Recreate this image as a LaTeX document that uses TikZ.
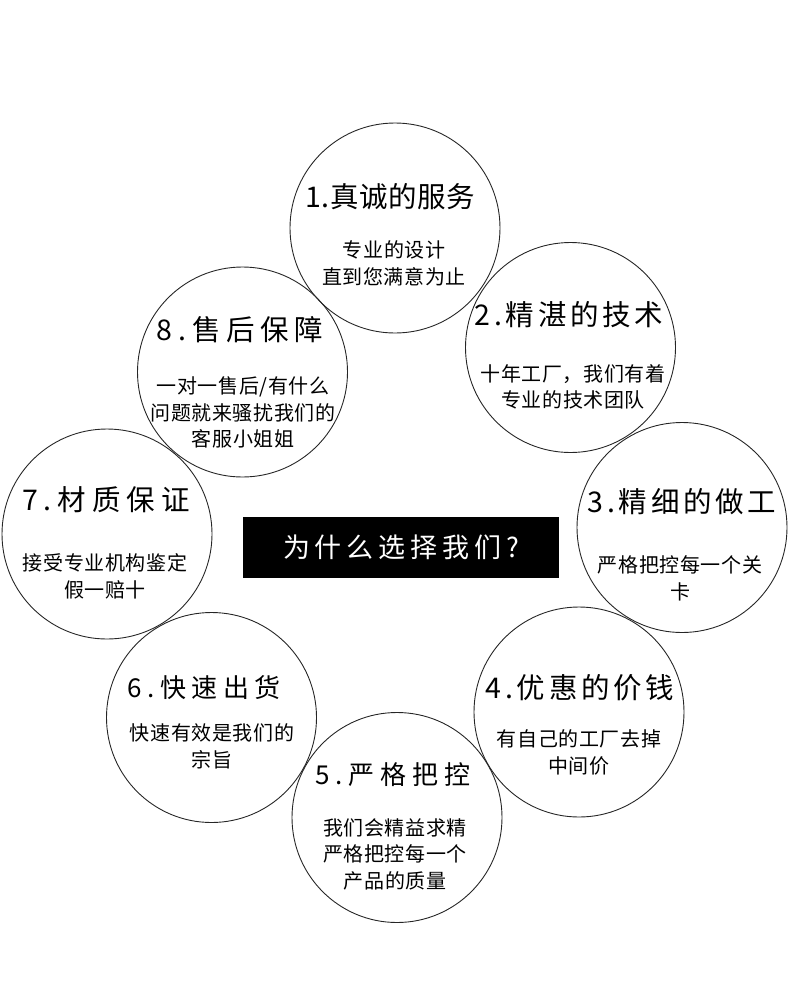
\documentclass[tikz,border=0pt]{standalone}
\usepackage{fontspec}
\setmainfont{Noto Sans CJK SC}
\begin{document}
\begin{tikzpicture}[x=1pt, y=-1pt]
        \tikzstyle{circ} = [draw=black!85, line width=0.9pt, circle, minimum size=210pt, inner sep=0pt]
        \tikzstyle{sub} = [align=center, inner sep=0pt, font=\fontsize{20}{26.5}\selectfont\addfontfeatures{LetterSpace=3}]
        \tikzstyle{qbox} = [fill=black, text=white, minimum width=316pt, minimum height=61pt, inner sep=0pt, font=\fontsize{27}{30}\selectfont\addfontfeatures{LetterSpace=18}]
        \tikzset{ttl/.style={inner sep=0pt, font=\fontsize{28.5}{32}\selectfont\addfontfeatures{LetterSpace=#1}}, ttl/.default=2}
        \tikzset{ttls/.style={inner sep=0pt, font=\fontsize{26}{30}\selectfont\addfontfeatures{LetterSpace=#1}}}
        \useasboundingbox (0, 0) rectangle (790, 988);
        % the eight circles
        \node[circ] (c1) at (395, 228) {};
        \node[circ] (c2) at (570.5, 347.5) {};
        \node[circ] (c3) at (682, 527.5) {};
        \node[circ] (c4) at (579, 712) {};
        \node[circ] (c5) at (397, 817.5) {};
        \node[circ] (c6) at (211.5, 717.5) {};
        \node[circ] (c7) at (107, 534) {};
        \node[circ] (c8) at (242.5, 372) {};
        % titles
        \node[ttl] (t1) at (390, 197) {1.真诚的服务};
        \node[ttl=13] (t2) at (569, 315) {2.精湛的技术};
        \node[ttl=13] (t3) at (682, 502) {3.精细的做工};
        \node[ttl=13] (t4) at (580, 688) {4.优惠的价钱};
        \node[ttls=23] (t5) at (393, 775) {5.严格把控};
        \node[ttls=21] (t6) at (204, 688) {6.快速出货};
        \node[ttl=21] (t7) at (106, 500) {7.材质保证};
        \node[ttl=20] (t8) at (240, 330) {8.售后保障};
        % texts under the titles
        \node[sub] (s1) at (394, 263.5) {专业的设计\\直到您满意为止};
        \node[sub] (s2) at (573, 387) {十年工厂，我们有着\\专业的技术团队};
        \node[sub] (s3) at (680, 578.5) {严格把控每一个关\\卡};
        \node[sub] (s4) at (579, 752.5) {有自己的工厂去掉\\中间价};
        \node[sub] (s5) at (395, 854) {我们会精益求精\\严格把控每一个\\产品的质量};
        \node[sub] (s6) at (212, 746.5) {快速有效是我们的\\宗旨};
        \node[sub] (s7) at (105, 576.5) {接受专业机构鉴定\\假一赔十};
        \node[sub] (s8) at (243, 412.5) {一对一售后/有什么\\问题就来骚扰我们的\\客服小姐姐};
        % centre
        \node[qbox] (q) at (401, 547.5) {为什么选择我们?};
\end{tikzpicture}
\end{document}
